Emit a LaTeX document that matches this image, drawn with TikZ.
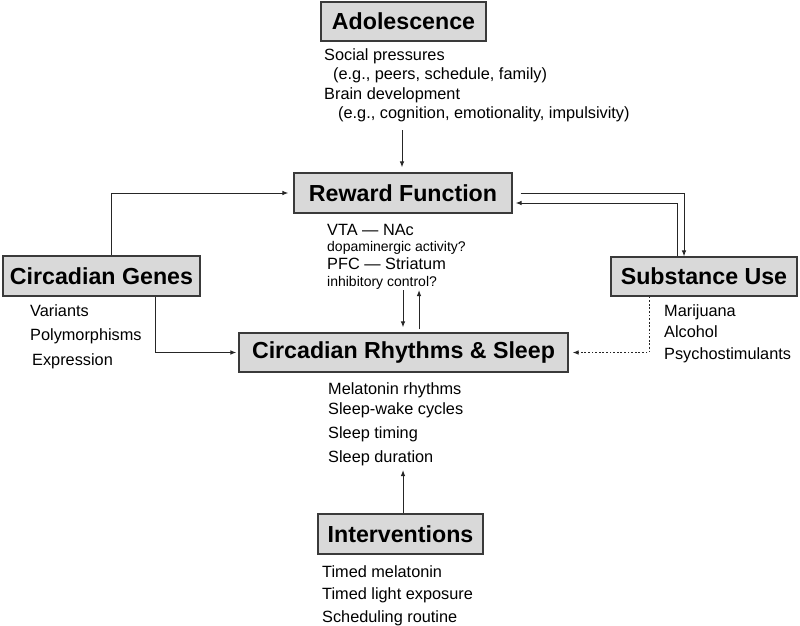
\documentclass[tikz,border=0pt]{standalone}
\usepackage{fontspec}
\setmainfont{Liberation Sans}
\usetikzlibrary{arrows.meta,shadows,calc}
\definecolor{boxfill}{HTML}{D9D9D9}
\definecolor{boxline}{HTML}{3A3A3A}
\definecolor{lnk}{HTML}{262626}
\tikzset{
  titlebox/.style={draw=boxline, line width=1.1pt, fill=boxfill, inner sep=0pt,
    font=\bfseries\fontsize{23.2}{27}\selectfont,
    drop shadow={shadow xshift=1.2pt, shadow yshift=-1.2pt, opacity=0.35, fill=black}},
  body/.style={anchor=base west, inner sep=0pt, font=\fontsize{16.3}{19}\selectfont},
  small/.style={anchor=base west, inner sep=0pt, font=\fontsize{14}{17}\selectfont},
  arr/.style={draw=lnk, line width=1pt, -{Latex[length=6pt,width=4.5pt]}},
}
\begin{document}
\begin{tikzpicture}[x=1pt,y=-1pt]
\useasboundingbox (0,0) rectangle (800,626);
% boxes
\node[titlebox, minimum width=165pt, minimum height=39pt] (adol) at (403.5,21.5) {Adolescence};
\node[titlebox, minimum width=218pt, minimum height=40pt] (reward) at (403,193) {Reward Function};
\node[titlebox, minimum width=197pt, minimum height=40pt] (genes) at (101.5,276) {Circadian Genes};
\node[titlebox, minimum width=186pt, minimum height=39pt] (subst) at (704,276.5) {Substance Use};
\node[titlebox, minimum width=329pt, minimum height=39pt] (cr) at (403.5,352.5) {Circadian Rhythms \& Sleep};
\node[titlebox, minimum width=165pt, minimum height=40pt] (interv) at (400.5,534) {Interventions};
% Adolescence text
\node[body] (a1) at (324,60) {Social pressures};
\node[body] (a2) at (333,79) {(e.g., peers, schedule, family)};
\node[body] (a3) at (324,99) {Brain development};
\node[body] (a4) at (338,118) {(e.g., cognition, emotionality, impulsivity)};
% Reward text
\node[body] (r1) at (327,235) {VTA — NAc};
\node[small] (r2) at (327,251) {dopaminergic activity?};
\node[body] (r3) at (327,269) {PFC — Striatum};
\node[small] (r4) at (327,286) {inhibitory control?};
% Genes text
\node[body] (g1) at (30,316) {Variants};
\node[body] (g2) at (30,340) {Polymorphisms};
\node[body] (g3) at (32,365) {Expression};
% Substance text
\node[body] (s1) at (664,316) {Marijuana};
\node[body] (s2) at (664,337) {Alcohol};
\node[body] (s3) at (664,359) {Psychostimulants};
% CR text
\node[body] (c1) at (328,394) {Melatonin rhythms};
\node[body] (c2) at (328,414) {Sleep-wake cycles};
\node[body] (c3) at (328,438) {Sleep timing};
\node[body] (c4) at (328,462) {Sleep duration};
% Interventions text
\node[body] (i1) at (322,577) {Timed melatonin};
\node[body] (i2) at (322,599) {Timed light exposure};
\node[body] (i3) at (322,622) {Scheduling routine};
% coordinates
\coordinate (adolend) at (402,130);
\coordinate (rdown) at (403,290);
\coordinate (rup) at (419,290);
\coordinate (sd) at (403,470);
% connectors
\draw[arr, shorten >=5pt] (adolend) -- (reward.north -| adolend);
\draw[arr, shorten >=5pt] ([xshift=10pt]genes.north) |- (reward.west);
\draw[arr, shorten >=2pt] ([xshift=54pt]genes.south) |- (cr.west);
\draw[arr, shorten <=8pt] (reward.east) -| ([xshift=-20pt]subst.north);
\draw[arr, shorten >=3pt] ([xshift=-27pt]subst.north) |- ([yshift=-10pt]reward.east);
\draw[arr, shorten >=5pt] (rdown) -- (cr.north -| rdown);
\draw[arr, shorten <=3pt] (cr.north -| rup) -- (rup);
\draw[arr, dash pattern=on 1.8pt off 1.8pt, shorten >=4pt] ([xshift=-55pt]subst.south) |- (cr.east);
\draw[arr] (interv.north -| sd) -- (sd);
\end{tikzpicture}
\end{document}
